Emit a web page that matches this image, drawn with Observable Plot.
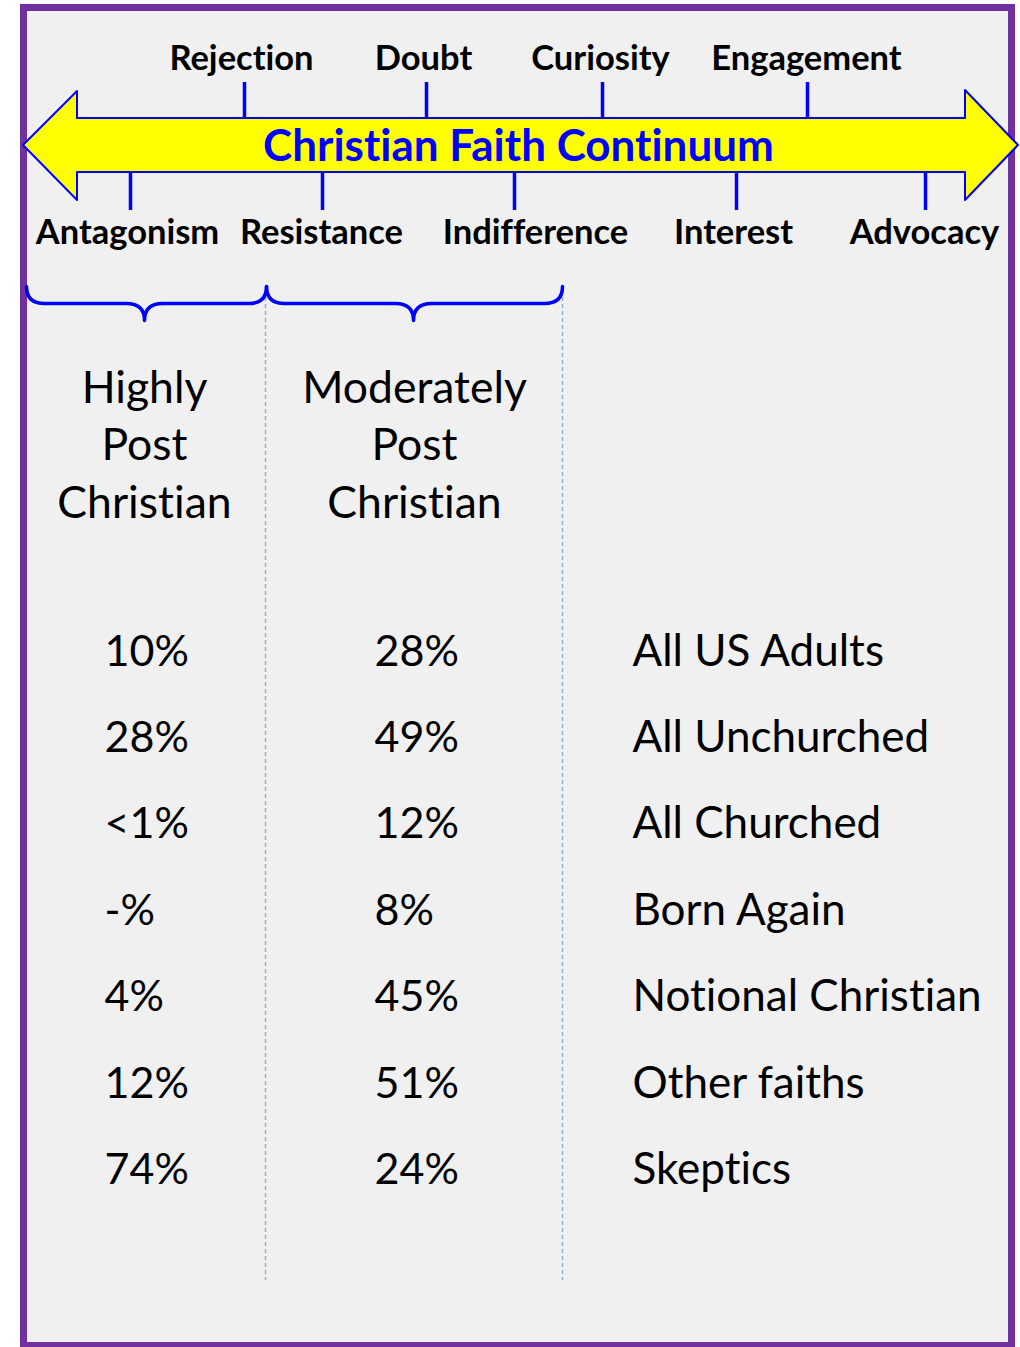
<!DOCTYPE html>
<html>
<head>
<meta charset="utf-8">
<script src="https://cdn.jsdelivr.net/npm/d3@7"></script>
<script src="https://cdn.jsdelivr.net/npm/@observablehq/plot@0.6"></script>
<style>
  html, body { margin: 0; padding: 0; background: #ffffff; }
  #chart svg { display: block; }
  #chart svg text { font-variant-ligatures: none; font-feature-settings: "liga" 0, "clig" 0; }
</style>
</head>
<body>
<div id="chart"></div>
<script>
// ---------- DATA ----------
const title = "Christian Faith Continuum";
const upperStages = ["Rejection", "Doubt", "Curiosity", "Engagement"];
const lowerStages = ["Antagonism", "Resistance", "Indifference", "Interest", "Advocacy"];
const columnHeaders = ["Highly\nPost\nChristian", "Moderately\nPost\nChristian"];
const groups = ["All US Adults", "All Unchurched", "All Churched", "Born Again", "Notional Christian", "Other faiths", "Skeptics"];
const highlyPost = ["10%", "28%", "<1%", "-%", "4%", "12%", "74%"];
const moderatelyPost = ["28%", "49%", "12%", "8%", "45%", "51%", "24%"];

// ---------- LAYOUT (pixel-space scale units) ----------
const W = 1020, H = 1347;
const layout = {
  border: {x1: 23.5, x2: 1011.5, y1: 7.5, y2: 1345.5},
  arrow: [
    {x: 23, y1: 145, y2: 145},
    {x: 77, y1: 91, y2: 200},
    {x: 77, y1: 118, y2: 172},
    {x: 965, y1: 118, y2: 172},
    {x: 965, y1: 90, y2: 200},
    {x: 1018, y1: 145, y2: 145}
  ],
  shaftTop: 118, shaftBottom: 172,
  upperTickX: [244, 426, 602, 807], upperTickTop: 82,
  upperLabelX: [241, 423, 600, 806], upperLabelY: 69,
  lowerTickX: [130, 322, 514, 736, 925], lowerTickBottom: 210,
  lowerLabelX: [127, 321, 535, 733, 924], lowerLabelY: 243,
  titleX: 518, titleY: 160,
  braces: [{x0: 26, x1: 266, xc: 144}, {x0: 266, x1: 562, xc: 413}],
  braceTop: 286, braceMid: 303, braceTip: 320, braceR: 18,
  dividerX: [265, 562], dividerTop: 290, dividerBottom: 1280,
  headerX: [144, 414], headerY: 517, headerLine: 57.5,
  colX: [104, 374], groupX: 632,
  rowBase: 665, rowStep: 86.4
};

const FONT = "Lato, 'Open Sans', sans-serif";
const BLUE = "#0000FF";
const rowY = i => layout.rowBase + i * layout.rowStep;

// brace points: alternating control / end points for quadratic segments
function bracePoints(b) {
  const {braceTop: t, braceMid: m, braceTip: p, braceR: r} = layout;
  return [
    [b.x0, t], [b.x0, m], [b.x0 + r, m],
    [(b.x0 + r + b.xc - r) / 2, m], [b.xc - r, m],
    [b.xc, m], [b.xc, p],
    [b.xc, m], [b.xc + r, m],
    [(b.xc + r + b.x1 - r) / 2, m], [b.x1 - r, m],
    [b.x1, m], [b.x1, t]
  ];
}
function quadCurve(context) {
  let pts;
  return {
    areaStart() {}, areaEnd() {},
    lineStart() { pts = []; },
    point(x, y) { pts.push([x, y]); },
    lineEnd() {
      if (!pts.length) return;
      context.moveTo(pts[0][0], pts[0][1]);
      for (let i = 1; i + 1 < pts.length; i += 2) {
        context.quadraticCurveTo(pts[i][0], pts[i][1], pts[i + 1][0], pts[i + 1][1]);
      }
    }
  };
}
const braceData = layout.braces.flatMap((b, k) => bracePoints(b).map(([x, y]) => ({k, x, y})));

const chart = Plot.plot({
  width: W,
  height: H,
  margin: 0,
  x: {domain: [0, W], range: [0, W], axis: null},
  y: {domain: [0, H], range: [0, H], axis: null},
  style: {background: "transparent", fontFamily: FONT, overflow: "visible"},
  marks: [
    // frame
    Plot.rect([layout.border], {x1: "x1", x2: "x2", y1: "y1", y2: "y2", fill: "#F0F0F0", stroke: "#7030A0", strokeWidth: 7}),
    // dashed dividers
    Plot.ruleX(layout.dividerX, {y1: layout.dividerTop, y2: layout.dividerBottom, stroke: "#86B2DE", strokeWidth: 1.5, strokeDasharray: "4,3"}),
    // ticks
    Plot.ruleX(layout.upperTickX, {y1: layout.upperTickTop, y2: layout.shaftTop, stroke: BLUE, strokeWidth: 3.5}),
    Plot.ruleX(layout.lowerTickX, {y1: layout.shaftBottom, y2: layout.lowerTickBottom, stroke: BLUE, strokeWidth: 3.5}),
    // arrow
    Plot.areaY(layout.arrow, {x: "x", y1: "y1", y2: "y2", fill: "#FFFF00", stroke: BLUE, strokeWidth: 2, curve: "linear"}),
    // title
    Plot.text([title], {x: () => layout.titleX, y: () => layout.titleY, text: d => d, lineAnchor: "bottom", fontSize: 44, fontWeight: "bold", fill: BLUE}),
    // stage labels
    Plot.text(upperStages, {x: (d, i) => layout.upperLabelX[i], y: () => layout.upperLabelY, text: d => d, lineAnchor: "bottom", fontSize: 34.5, fontWeight: "bold", fill: "#000"}),
    Plot.text(lowerStages, {x: (d, i) => layout.lowerLabelX[i], y: () => layout.lowerLabelY, text: d => d, lineAnchor: "bottom", fontSize: 34.5, fontWeight: "bold", fill: "#000"}),
    // braces
    Plot.line(braceData, {x: "x", y: "y", z: "k", stroke: BLUE, strokeWidth: 3.5, curve: quadCurve}),
    // column headers
    Plot.text(columnHeaders, {x: (d, i) => layout.headerX[i], y: () => layout.headerY, text: d => d, lineAnchor: "bottom", fontSize: 44.5, lineHeight: layout.headerLine / 44.5, fill: "#000"}),
    // values
    Plot.text(highlyPost, {x: () => layout.colX[0], y: (d, i) => rowY(i), text: d => d, textAnchor: "start", lineAnchor: "bottom", fontSize: 43, fill: "#000"}),
    Plot.text(moderatelyPost, {x: () => layout.colX[1], y: (d, i) => rowY(i), text: d => d, textAnchor: "start", lineAnchor: "bottom", fontSize: 43, fill: "#000"}),
    Plot.text(groups, {x: () => layout.groupX, y: (d, i) => rowY(i), text: d => d, textAnchor: "start", lineAnchor: "bottom", fontSize: 44, fill: "#000"})
  ]
});
document.getElementById("chart").appendChild(chart);
</script>
</body>
</html>
